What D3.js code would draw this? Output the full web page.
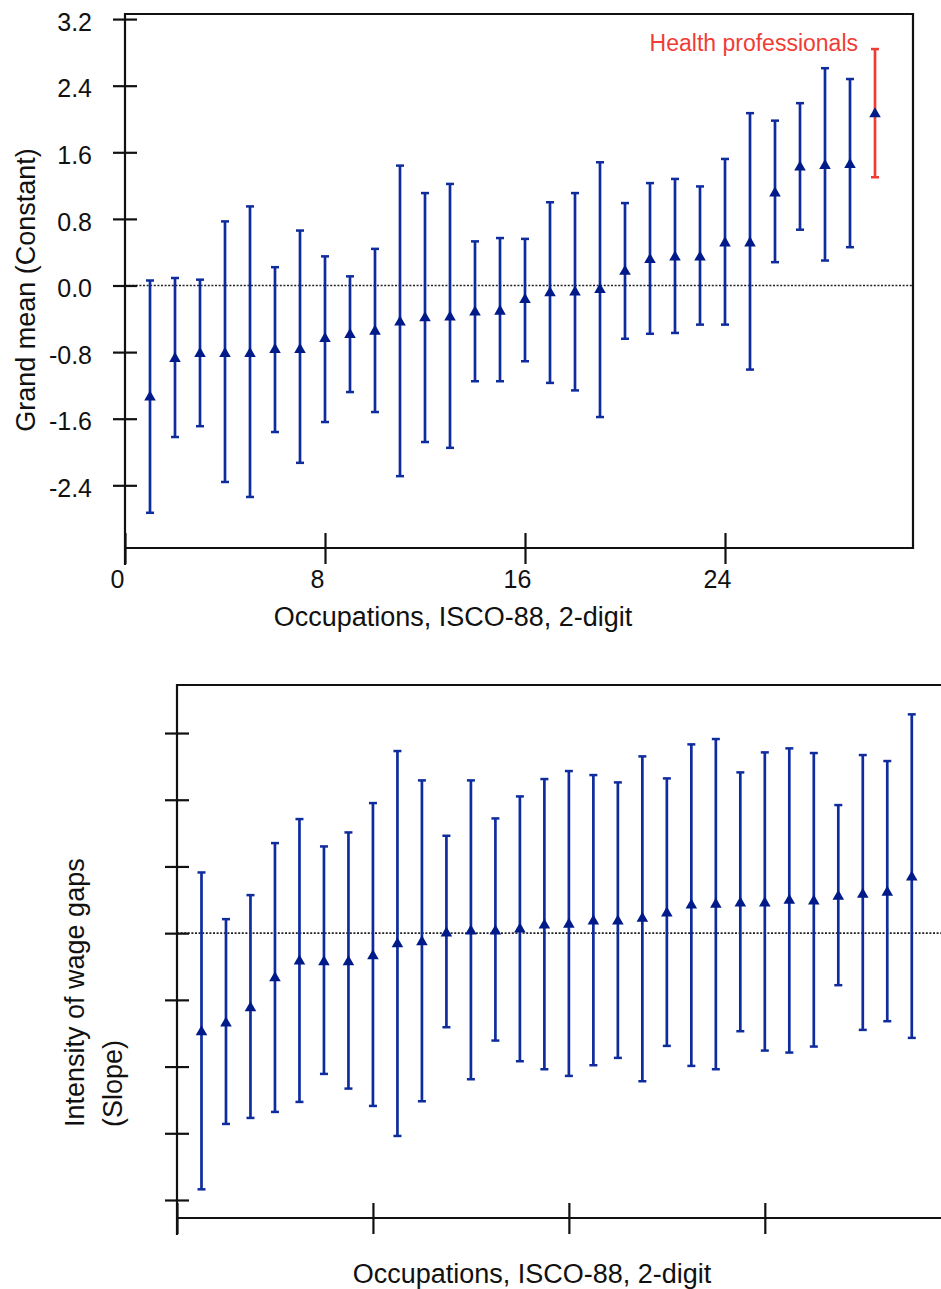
<!DOCTYPE html>
<html>
<head>
<meta charset="utf-8">
<script src="https://cdn.jsdelivr.net/npm/d3@7"></script>
<style>
  body { margin: 0; background: #fff; }
  svg { display: block; font-family: Arial, "Liberation Sans", Helvetica, sans-serif; }
</style>
</head>
<body>
<script>
// occupations 1..30, sorted by grand mean
var occupations = d3.range(1, 31);

var grandMean = [-1.34,-0.88,-0.82,-0.82,-0.82,-0.77,-0.77,-0.64,-0.59,-0.55,-0.44,-0.39,-0.38,-0.32,-0.31,-0.17,-0.09,-0.08,-0.05,0.17,0.31,0.34,0.34,0.51,0.51,1.11,1.42,1.44,1.45,2.06];
var grandLow  = [-2.73,-1.82,-1.69,-2.36,-2.54,-1.76,-2.13,-1.64,-1.28,-1.52,-2.29,-1.88,-1.95,-1.15,-1.15,-0.91,-1.17,-1.26,-1.58,-0.64,-0.58,-0.57,-0.47,-0.47,-1.01,0.28,0.67,0.30,0.46,1.30];
var grandHigh = [0.06,0.09,0.07,0.77,0.95,0.22,0.66,0.35,0.11,0.44,1.44,1.11,1.22,0.53,0.57,0.56,1.00,1.11,1.48,0.99,1.23,1.28,1.19,1.52,2.07,1.98,2.19,2.61,2.48,2.84];

var slopePt   = [-0.148,-0.135,-0.112,-0.067,-0.042,-0.043,-0.043,-0.034,-0.016,-0.013,0.000,0.003,0.003,0.006,0.012,0.013,0.018,0.018,0.022,0.030,0.042,0.043,0.045,0.045,0.049,0.048,0.055,0.058,0.061,0.084];
var slopeHigh = [0.091,0.021,0.057,0.135,0.171,0.130,0.151,0.195,0.273,0.229,0.146,0.229,0.172,0.205,0.231,0.243,0.237,0.226,0.265,0.232,0.283,0.291,0.241,0.271,0.277,0.270,0.192,0.267,0.258,0.328];
var slopeLow  = [-0.384,-0.286,-0.277,-0.268,-0.253,-0.211,-0.233,-0.259,-0.304,-0.252,-0.141,-0.219,-0.161,-0.192,-0.204,-0.214,-0.198,-0.187,-0.222,-0.169,-0.199,-0.204,-0.147,-0.176,-0.179,-0.170,-0.078,-0.145,-0.132,-0.157];

var grandTicks = [-2.4, -1.6, -0.8, 0, 0.8, 1.6, 2.4, 3.2];
var slopeTicks = [-0.4, -0.3, -0.2, -0.1, 0, 0.1, 0.2, 0.3];
var xTicks = [0, 8, 16, 24];
var xTicksSlope = [0, 8, 16, 24, 32];
var highlight = 30; // health professionals

var width = 941, height = 1289;
var blue = "#0f2c9e", navy = "#001a8a", red = "#ef3d36";

var svg = d3.select("body").append("svg")
    .attr("width", width)
    .attr("height", height);

// plain hyphen for negatives, like the original
function fmt1(v) { return v.toFixed(1).replace("\u2212", "-"); }

function drawPanel(opt) {
    var g = svg.append("g");
    var x = opt.x, y = opt.y;
    var x0 = x.range()[0], x1 = x.range()[1];
    var yb = y.range()[0], yt = y.range()[1];

    // frame
    g.append("path")
        .attr("d", "M" + x0 + "," + (yb + 17) + "V" + yt + "H" + x1 + "V" + yb + "H" + x0)
        .attr("fill", "none").attr("stroke", "#111").attr("stroke-width", 2.2);

    // zero line
    g.append("line")
        .attr("x1", x0).attr("x2", x1)
        .attr("y1", y(0)).attr("y2", y(0))
        .attr("stroke", "#222").attr("stroke-width", 1.7)
        .attr("stroke-dasharray", "2,1.6");

    // y axis
    var ya = g.append("g")
        .attr("transform", "translate(" + x0 + ",0)")
        .call(d3.axisLeft(y).tickValues(opt.yTicks).tickSize(12)
            .tickFormat(opt.yLabels ? fmt1 : ""));
    ya.select(".domain").remove();
    ya.selectAll("line").attr("x1", 12).attr("stroke", "#111").attr("stroke-width", 2.2);
    ya.selectAll("text")
        .attr("x", -33).attr("dy", "0.45em")
        .attr("font-size", 25).attr("fill", "#111")
        .attr("font-family", "Arial, 'Liberation Sans', sans-serif");

    // x axis
    var xa = g.append("g")
        .attr("transform", "translate(0," + yb + ")")
        .call(d3.axisBottom(x).tickValues(opt.xTicks).tickSize(16)
            .tickFormat(opt.xLabels ? d3.format("d") : ""));
    xa.select(".domain").remove();
    xa.selectAll("line").attr("y1", -15).attr("stroke", "#111").attr("stroke-width", 2.2);
    xa.selectAll("text")
        .attr("y", 22).attr("dy", "0.71em").attr("dx", -8)
        .attr("font-size", 25).attr("fill", "#111")
        .attr("font-family", "Arial, 'Liberation Sans', sans-serif");

    // error bars
    var bars = g.append("g").selectAll("g")
        .data(opt.data).enter().append("g");
    bars.append("line")
        .attr("x1", function(d) { return x(d.occ); })
        .attr("x2", function(d) { return x(d.occ); })
        .attr("y1", function(d) { return y(d.low); })
        .attr("y2", function(d) { return y(d.high); })
        .attr("stroke", function(d) { return d.red ? red : blue; })
        .attr("stroke-width", 2.7);
    ["low", "high"].forEach(function(k) {
        bars.append("line")
            .attr("x1", function(d) { return x(d.occ) - 4; })
            .attr("x2", function(d) { return x(d.occ) + 4; })
            .attr("y1", function(d) { return y(d[k]); })
            .attr("y2", function(d) { return y(d[k]); })
            .attr("stroke", function(d) { return d.red ? red : blue; })
            .attr("stroke-width", 2.5);
    });
    bars.append("path")
        .attr("d", d3.symbol(d3.symbolTriangle, 58))
        .attr("transform", function(d) { return "translate(" + x(d.occ) + "," + y(d.mean) + ")"; })
        .attr("fill", navy);
    return g;
}

// top panel: grand mean
var xTop = d3.scaleLinear().domain([0, 31.52]).range([125, 913]);
var yTop = d3.scaleLinear().domain([-3.153, 3.261]).range([548, 14]);
var topData = occupations.map(function(o, i) {
    return {occ: o, mean: grandMean[i], low: grandLow[i], high: grandHigh[i], red: o == highlight};
});
drawPanel({x: xTop, y: yTop, yTicks: grandTicks, xTicks: xTicks, yLabels: true, xLabels: true, data: topData});

svg.append("text")
    .attr("x", 858).attr("y", 51)
    .attr("text-anchor", "end")
    .attr("font-size", 23)
    .attr("fill", red)
    .text("Health professionals");

svg.append("text")
    .attr("transform", "translate(35,290) rotate(-90)")
    .attr("text-anchor", "middle")
    .attr("font-size", 27)
    .attr("fill", "#111")
    .text("Grand mean (Constant)");

svg.append("text")
    .attr("x", 453).attr("y", 626)
    .attr("text-anchor", "middle")
    .attr("font-size", 27)
    .attr("fill", "#111")
    .text("Occupations, ISCO-88, 2-digit");

// bottom panel: slope
var xBot = d3.scaleLinear().domain([0, 31.52]).range([177, 949]);
var yBot = d3.scaleLinear().domain([-0.427, 0.372]).range([1218, 685]);
var botData = occupations.map(function(o, i) {
    return {occ: o, mean: slopePt[i], low: slopeLow[i], high: slopeHigh[i], red: false};
});
drawPanel({x: xBot, y: yBot, yTicks: slopeTicks, xTicks: xTicksSlope, yLabels: false, xLabels: false, data: botData});

var ylab = svg.append("text")
    .attr("transform", "translate(84,1127) rotate(-90)")
    .attr("font-size", 27)
    .attr("fill", "#111");
ylab.append("tspan").attr("x", 0).attr("dy", 0).text("Intensity of wage gaps");
ylab.append("tspan").attr("x", 0).attr("dy", 38).text("(Slope)");

svg.append("text")
    .attr("x", 532).attr("y", 1283)
    .attr("text-anchor", "middle")
    .attr("font-size", 27)
    .attr("fill", "#111")
    .text("Occupations, ISCO-88, 2-digit");
</script>
</body>
</html>
